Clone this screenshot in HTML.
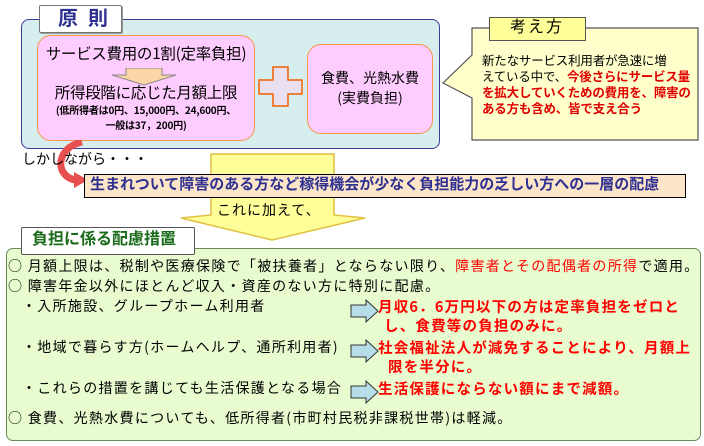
<!DOCTYPE html>
<html><head><meta charset="utf-8"><style>
body{margin:0;width:704px;height:446px;background:#fff;position:relative;overflow:hidden;font-family:"Noto Sans CJK JP","Liberation Sans",sans-serif;color:#000}
.a{position:absolute;white-space:nowrap;line-height:1.2}
.red{color:#f00;font-weight:bold}
.g{font-size:14px;letter-spacing:1.3px}
.r{font-size:14.5px;letter-spacing:1.2px}
</style></head><body>
<div class="a" style="left:21px;top:19px;width:417px;height:128px;background:#d7eeee;border:1px solid #3b3b9a;border-radius:8px"></div>
<div class="a" style="left:39px;top:5px;width:81px;height:26px;background:#fff;border:1px solid #777;border-radius:2px;box-shadow:1px 1px 0 #999"></div>
<div class="a" style="left:58px;top:5px;font-size:20px;font-weight:bold;color:#2e3092;letter-spacing:10px">原則</div>
<div class="a" style="left:37px;top:35px;width:216px;height:104px;background:#ffccff;border:1px solid #f79646;border-radius:14px"></div>
<div class="a" style="left:38px;top:44px;width:216px;text-align:center;font-size:15.5px;letter-spacing:-0.3px">サービス費用の1割(定率負担)</div>
<svg class="a" style="left:110px;top:68px" width="68" height="18"><polygon points="16,0 52,0 52,7 66,7 34,17 2,7 16,7" fill="#fbd5a5" stroke="#888"/></svg>
<div class="a" style="left:38px;top:83px;width:216px;text-align:center;font-size:15.5px;letter-spacing:-0.3px">所得段階に応じた月額上限</div>
<div class="a" style="left:38px;top:102px;width:216px;text-align:center;font-size:10px;font-weight:bold;line-height:15px;letter-spacing:-0.2px">(低所得者は0円、15,000円、24,600円、<br>一般は37，200円)</div>
<svg class="a" style="left:258px;top:66px" width="46" height="42"><polygon points="15,1 30,1 30,14 44,14 44,28 30,28 30,40 15,40 15,28 1,28 1,14 15,14" fill="#e8e0f0" stroke="#f06000" stroke-width="1.5"/></svg>
<div class="a" style="left:307px;top:44px;width:124px;height:88px;background:#ffccff;border:1px solid #f79646;border-radius:14px"></div>
<div class="a" style="left:307px;top:68px;width:126px;text-align:center;font-size:14px;line-height:20px">食費、光熱水費<br>(実費負担)</div>
<svg class="a" style="left:440px;top:26px" width="262" height="118"><polygon points="32,2 258,2 258,114 32,114 32,72 3,57 32,29" fill="#ffffcc" stroke="#555" stroke-width="1.2"/></svg>
<div class="a" style="left:489px;top:17px;width:95px;height:22px;background:#ffff99;border:1px solid #555"></div>
<div class="a" style="left:510px;top:16px;font-size:16px;letter-spacing:2px">考え方</div>
<div class="a" style="left:482px;top:52px;font-size:12.5px;line-height:16px;letter-spacing:-0.2px">新たなサービス利用者が急速に増<br>えている中で、<span class="red" style="color:#e00000">今後さらにサービス量<br>を拡大していくための費用を、障害の<br>ある方も含め、皆で支え合う</span></div>
<svg class="a" style="left:178px;top:152px" width="190" height="92"><polygon points="33,2 156,2 156,63 187,66 94,88 3,66 33,63" fill="#ffff99" stroke="#e0c040" stroke-width="1.5"/></svg>
<svg class="a" style="left:44px;top:140px" width="50" height="50"><path d="M38,2 C20,6 14,20 18,30 C22,38 28,40 34,40" fill="none" stroke="#e85050" stroke-width="7"/><polygon points="30,32 44,40 30,48" fill="#e85050"/></svg>
<div class="a" style="left:22px;top:151px;font-size:14px">しかしながら・・・</div>
<div class="a" style="left:84px;top:174px;width:600px;height:22px;background:#fde5c8;border:1px solid #000"></div>
<div class="a" style="left:90px;top:175px;font-size:15px;font-weight:bold;color:#2e3092;letter-spacing:0px">生まれついて障害のある方など稼得機会が少なく負担能力の乏しい方への一層の配慮</div>
<div class="a" style="left:217px;top:202px;font-size:14px;letter-spacing:1px">これに加えて、</div>
<div class="a" style="left:6px;top:248px;width:693px;height:191px;background:#e8fcd0;border:1px solid #6a8a5a;border-radius:7px"></div>
<div class="a" style="left:21px;top:227px;width:172px;height:26px;background:#fff;border:1px solid #555;border-radius:2px"></div>
<div class="a" style="left:32px;top:228px;font-size:16px;font-weight:bold;color:#1a6b1a">負担に係る配慮措置</div>
<div class="a g" style="left:8px;top:258px">○ 月額上限は、税制や医療保険で「被扶養者」とならない限り、<span style="color:#f00">障害者とその配偶者の所得</span>で適用。</div>
<div class="a g" style="left:8px;top:278px">○ 障害年金以外にほとんど収入・資産のない方に特別に配慮。</div>
<div class="a g" style="left:22px;top:298px">・入所施設、グループホーム利用者</div>
<div class="a g" style="left:22px;top:339px">・地域で暮らす方(ホームヘルプ、通所利用者)</div>
<div class="a g" style="left:22px;top:380px">・これらの措置を講じても生活保護となる場合</div>
<div class="a g" style="left:8px;top:410px">○ 食費、光熱水費についても、低所得者(市町村民税非課税世帯)は軽減。</div>
<svg class="a" style="left:350px;top:299px" width="30" height="24"><polygon points="1,6 16,6 16,1 28,12 16,23 16,18 1,18" fill="#b7dde8" stroke="#333"/></svg>
<svg class="a" style="left:350px;top:339px" width="30" height="24"><polygon points="1,6 16,6 16,1 28,12 16,23 16,18 1,18" fill="#b7dde8" stroke="#333"/></svg>
<svg class="a" style="left:350px;top:380px" width="30" height="24"><polygon points="1,6 16,6 16,1 28,12 16,23 16,18 1,18" fill="#b7dde8" stroke="#333"/></svg>
<div class="a red r" style="left:378px;top:298px">月収6．6万円以下の方は定率負担をゼロと</div>
<div class="a red r" style="left:384px;top:317px">し、食費等の負担のみに。</div>
<div class="a red r" style="left:378px;top:339px">社会福祉法人が減免することにより、月額上</div>
<div class="a red r" style="left:388px;top:358px">限を半分に。</div>
<div class="a red r" style="left:378px;top:380px">生活保護にならない額にまで減額。</div>
</body></html>
